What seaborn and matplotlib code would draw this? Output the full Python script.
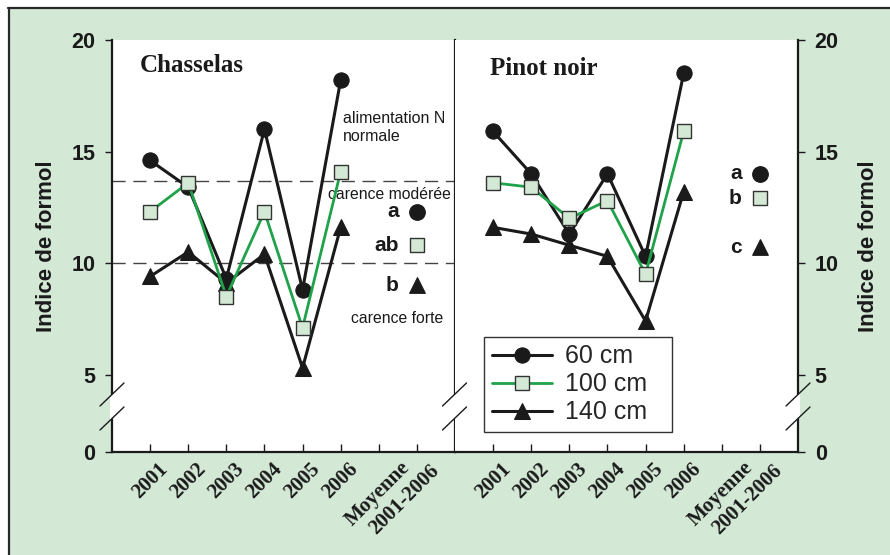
import numpy as np
import pandas as pd
import matplotlib
matplotlib.use("Agg")
import matplotlib.pyplot as plt
import seaborn as sns
from matplotlib.patches import Rectangle, Polygon
from matplotlib.lines import Line2D

# ---- data -------------------------------------------------------------
years = ["2001", "2002", "2003", "2004", "2005", "2006"]
mean_label = ["Moyenne", "2001-2006"]
depths = ["60 cm", "100 cm", "140 cm"]

chasselas_60 = [14.6, 13.4, 9.3, 16.0, 8.8, 18.2]
chasselas_100 = [12.3, 13.6, 8.5, 12.3, 7.1, 14.1]
chasselas_140 = [9.4, 10.5, 9.1, 10.4, 5.3, 11.6]

pinot_60 = [15.9, 14.0, 11.3, 14.0, 10.3, 18.5]
pinot_100 = [13.6, 13.4, 12.0, 12.8, 9.5, 15.9]
pinot_140 = [11.6, 11.3, 10.8, 10.3, 7.4, 13.2]

chasselas_means = [12.3, 10.8, 9.0]
chasselas_letters = ["a", "ab", "b"]
pinot_means = [14.0, 12.9, 10.7]
pinot_letters = ["a", "b", "c"]

thresholds = [13.7, 10.0]
y_ticks = [5, 10, 15, 20]
y_floor = 1.53          # axis bottom, shown as "0" behind the axis break

# ---- style ------------------------------------------------------------
sns.set_style("ticks")
plt.rcParams["font.family"] = ["Liberation Sans", "DejaVu Sans"]

BG = "#d3e8d5"
GREEN = "#1fa24a"
DARK = "#1a1a1a"
SANS = ["Liberation Sans", "DejaVu Sans"]
SERIF = ["Liberation Serif", "DejaVu Serif"]

W, H = 890, 555
fig = plt.figure(figsize=(W / 100, H / 100), dpi=100, facecolor="white")


def fx(x):
    return x / W


def fy(y):
    return 1 - y / H


# panel background and frame
fig.add_artist(Rectangle((fx(9), 0), 1 - fx(9), fy(8), transform=fig.transFigure,
                         facecolor=BG, edgecolor="none", zorder=-10))
fig.add_artist(Line2D([fx(8), 1], [fy(8), fy(8)], transform=fig.transFigure,
                      color="#2a2a2a", lw=1.6, zorder=-5))
fig.add_artist(Line2D([fx(9), fx(9)], [fy(8), 0], transform=fig.transFigure,
                      color="#2a2a2a", lw=1.6, zorder=-5))


def px_axes(x0, y0, x1, y1):
    return fig.add_axes([fx(x0), fy(y1), fx(x1) - fx(x0), fy(y0) - fy(y1)])


axL = px_axes(112, 40, 455, 452)
axR = px_axes(455, 40, 798, 452)

x_years = np.arange(len(years))
x_mean = len(years) + 1

series_style = {
    "60 cm": dict(marker="o", color=DARK, markersize=11, linewidth=2.2,
                  markerfacecolor=DARK, markeredgecolor=DARK, zorder=3),
    "140 cm": dict(marker="^", color=DARK, markersize=11, linewidth=2.2,
                   markerfacecolor=DARK, markeredgecolor=DARK, zorder=4),
    "100 cm": dict(marker="s", color=GREEN, markersize=10, linewidth=2.0,
                   markerfacecolor=BG, markeredgecolor="#333333",
                   markeredgewidth=1.0, zorder=5),
}
mean_style = [
    dict(marker="o", s=125, color=DARK, edgecolor=DARK),
    dict(marker="s", s=95, color=BG, edgecolor="#333333", linewidth=1.0),
    dict(marker="^", s=125, color=DARK, edgecolor=DARK),
]


def draw_panel(ax, values, means, letters, title, title_x, title_y):
    for depth in ["60 cm", "140 cm", "100 cm"]:
        df = pd.DataFrame({"x": x_years, "y": values[depth]})
        sns.lineplot(data=df, x="x", y="y", ax=ax, label=depth, legend=False,
                     errorbar=None, **series_style[depth])
    for m, letter, st in zip(means, letters, mean_style):
        sns.scatterplot(x=[x_mean], y=[m], ax=ax, legend=False, zorder=6, **st)
        ax.annotate(letter, (x_mean, m), xytext=(-13, 0), textcoords="offset points",
                    ha="right", va="center", fontsize=15, fontweight="bold",
                    family=SANS, color=DARK)
    ax.text(title_x, title_y, title, transform=ax.transAxes, ha="left", va="center",
            fontsize=18, fontweight="bold", family=SERIF, color=DARK)

    ax.set_xlim(-1, x_mean + 1)
    ax.set_ylim(y_floor, 20)
    ax.set_xticks(list(x_years) + [x_mean - 1, x_mean])
    ax.set_xticklabels(years + ["", ""], rotation=45, ha="center",
                       fontsize=15, fontweight="bold", family=SERIF)
    # two-line label for the mean column, second line slightly staggered
    xt = ax.get_xaxis_transform()
    for text, xpos, ypos in zip(mean_label, [5.97, 6.66], [-0.101, -0.116]):
        ax.text(xpos, ypos, text, transform=xt, rotation=45, rotation_mode="anchor",
                ha="center", va="center", fontsize=15, fontweight="bold",
                family=SERIF, color=DARK)
    ax.tick_params(axis="x", direction="in", length=6, width=1.0, pad=5, colors=DARK)
    ax.set_xlabel("")
    ax.set_ylabel("")
    ax.spines["top"].set_visible(False)
    for s in ["left", "right", "bottom"]:
        ax.spines[s].set_linewidth(1.6)
        ax.spines[s].set_color(DARK)
    ax.set_facecolor("white")


draw_panel(axL, {"60 cm": chasselas_60, "100 cm": chasselas_100, "140 cm": chasselas_140},
           chasselas_means, chasselas_letters, "Chasselas", 0.082, 0.939)
draw_panel(axR, {"60 cm": pinot_60, "100 cm": pinot_100, "140 cm": pinot_140},
           pinot_means, pinot_letters, "Pinot noir", 0.102, 0.932)

ytick_pos = [y_floor] + y_ticks
ytick_lab = ["0"] + [str(t) for t in y_ticks]

# left panel: y axis on the left
axL.set_yticks(ytick_pos)
axL.set_yticklabels(ytick_lab, fontsize=15.5, fontweight="bold", family=SANS)
axL.tick_params(axis="y", direction="out", length=5, width=1.0, pad=7,
                left=True, right=False, colors=DARK)
axL.set_ylabel("Indice de formol", fontsize=16, fontweight="bold", family=SANS, color=DARK)
axL.yaxis.set_label_coords(-0.16, 0.5)

# right panel: y axis on the right
axR.yaxis.tick_right()
axR.yaxis.set_label_position("right")
axR.set_yticks(ytick_pos)
axR.set_yticklabels(ytick_lab, fontsize=15.5, fontweight="bold", family=SANS)
axR.tick_params(axis="y", direction="out", length=5, width=1.0, pad=7,
                left=False, right=True, colors=DARK)
axR.set_ylabel("Indice de formol", fontsize=16, fontweight="bold", family=SANS, color=DARK)
axR.yaxis.set_label_coords(1.175, 0.5)
axR.spines["left"].set_visible(False)

# nutrition thresholds on the Chasselas panel
for t in thresholds:
    axL.axhline(t, color="#444444", lw=1.0, linestyle=(0, (9.5, 5.5)), zorder=1)
axL.text(0.673, 0.788, "alimentation N\nnormale", transform=axL.transAxes,
         ha="left", va="center", fontsize=11.5, family=SANS, color=DARK, linespacing=1.2)
axL.text(0.809, 0.626, "carence modérée", transform=axL.transAxes,
         ha="center", va="center", fontsize=11.3, family=SANS, color=DARK)
axL.text(0.832, 0.323, "carence forte", transform=axL.transAxes,
         ha="center", va="center", fontsize=11.3, family=SANS, color=DARK)

# legend
handles, labels = axR.get_legend_handles_labels()
order = [labels.index(d) for d in depths]
leg = axR.legend([handles[i] for i in order], [labels[i] for i in order],
                 loc="lower left", bbox_to_anchor=(0.085, 0.049, 0.548, 0.2),
                 mode="expand", borderaxespad=0,
                 frameon=True, fancybox=False, framealpha=1, edgecolor="#333333",
                 prop={"family": SANS, "size": 18}, handlelength=2.4,
                 handletextpad=0.55, labelspacing=0.16, borderpad=0.3)
leg.get_frame().set_linewidth(1.0)

# axis breaks drawn across each vertical spine
for xs in [112, 454.5, 798]:
    k = 23 / 24
    y1 = lambda X, c: c - k * (X - xs)
    pad = 2.0
    poly = [(xs - pad, y1(xs - pad, 394.5)), (xs + pad, y1(xs + pad, 394.5)),
            (xs + pad, y1(xs + pad, 418.5)), (xs - pad, y1(xs - pad, 418.5))]
    fig.add_artist(Polygon([(fx(a), fy(b)) for a, b in poly], closed=True,
                           transform=fig.transFigure, facecolor="white",
                           edgecolor="none", zorder=20))
    for c in (394.5, 418.5):
        fig.add_artist(Line2D([fx(xs - 12), fx(xs + 12)],
                              [fy(y1(xs - 12, c)), fy(y1(xs + 12, c))],
                              transform=fig.transFigure, color=DARK, lw=1.0, zorder=21))

fig.savefig("out.png", dpi=100, facecolor=fig.get_facecolor())
